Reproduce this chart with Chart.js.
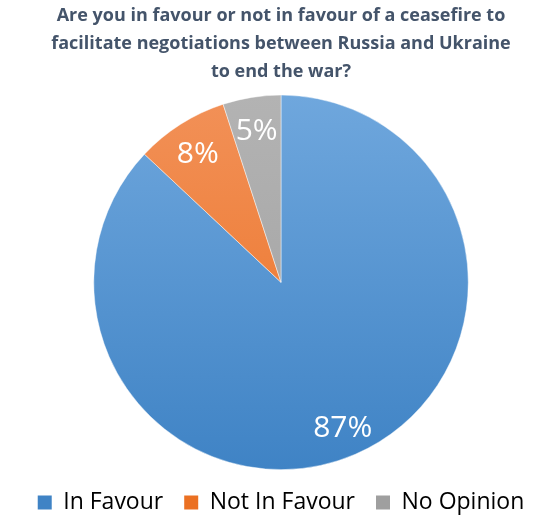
<!DOCTYPE html>
<html>
<head>
<meta charset="utf-8">
<script src="https://cdn.jsdelivr.net/npm/chart.js@4"></script>
<style>
    html, body { margin: 0; padding: 0; background: #fff; }
    #wrap { width: 558px; height: 520px; }
</style>
</head>
<body>
<div id="wrap"><canvas id="chart" width="558" height="520"></canvas></div>
<script>
const categories = ['In Favour', 'Not In Favour', 'No Opinion'];
const shares = [87, 8, 5];
const titleLines = [
    'Are you in favour or not in favour of a ceasefire to',
    'facilitate negotiations between Russia and Ukraine',
    'to end the war?',
];

const textColor = '#44546A';
const gradientStops = [
    ['#6FA7DD', '#3F83C5'],
    ['#F29158', '#EB7022'],
    ['#B3B3B3', '#9F9F9F'],
];

function sliceFill(context) {
    const chart = context.chart;
    const area = chart.chartArea;
    const stops = gradientStops[context.dataIndex];

    if (!area || !Number.isFinite(area.top)) {
        return stops[1];
    }

    const radius = Math.min(area.right - area.left, area.bottom - area.top) / 2;
    const centerY = (area.top + area.bottom) / 2;
    const gradient = chart.ctx.createLinearGradient(0, centerY - radius, 0, centerY + radius);
    gradient.addColorStop(0, stops[0]);
    gradient.addColorStop(1, stops[1]);

    return gradient;
}

// draws the percentage inside each slice
const sliceLabels = {
    id: 'sliceLabels',
    afterDatasetsDraw(chart) {
        const ctx = chart.ctx;
        const arcs = chart.getDatasetMeta(0).data;

        ctx.save();
        ctx.fillStyle = '#ffffff';
        ctx.font = '30px "Open Sans"';
        ctx.textAlign = 'center';
        ctx.textBaseline = 'middle';

        arcs.forEach((arc, index) => {
            const angle = (arc.startAngle + arc.endAngle) / 2;
            const distance = arc.outerRadius * 0.83;
            const x = arc.x + Math.cos(angle) * distance;
            const y = arc.y + Math.sin(angle) * distance + 3;

            ctx.fillText(`${shares[index]}%`, x, y);
        });

        ctx.restore();
    },
};

new Chart(document.getElementById('chart'), {
    type: 'pie',
    data: {
        labels: categories,
        datasets: [{
            data: shares,
            backgroundColor: sliceFill,
            borderColor: 'rgba(255, 255, 255, 0.6)',
            borderWidth: 0.75,
        }],
    },
    options: {
        responsive: false,
        animation: false,
        layout: {
            padding: { top: 0, bottom: -4, left: 14, right: 10 },
        },
        plugins: {
            title: {
                display: true,
                text: titleLines,
                color: textColor,
                font: { family: '"Open Sans"', size: 18, weight: 'bold', lineHeight: 1.55 },
                padding: { top: 2, bottom: 9 },
            },
            legend: {
                position: 'bottom',
                labels: {
                    color: textColor,
                    font: { family: '"Open Sans"', size: 23 },
                    boxWidth: 14,
                    boxHeight: 14,
                    padding: 21,
                    generateLabels(chart) {
                        return categories.map((label, index) => ({
                            text: label,
                            fillStyle: gradientStops[index][1],
                            strokeStyle: gradientStops[index][1],
                            lineWidth: 0,
                            index,
                        }));
                    },
                },
            },
            tooltip: { enabled: false },
        },
    },
    plugins: [sliceLabels],
});
</script>
</body>
</html>
